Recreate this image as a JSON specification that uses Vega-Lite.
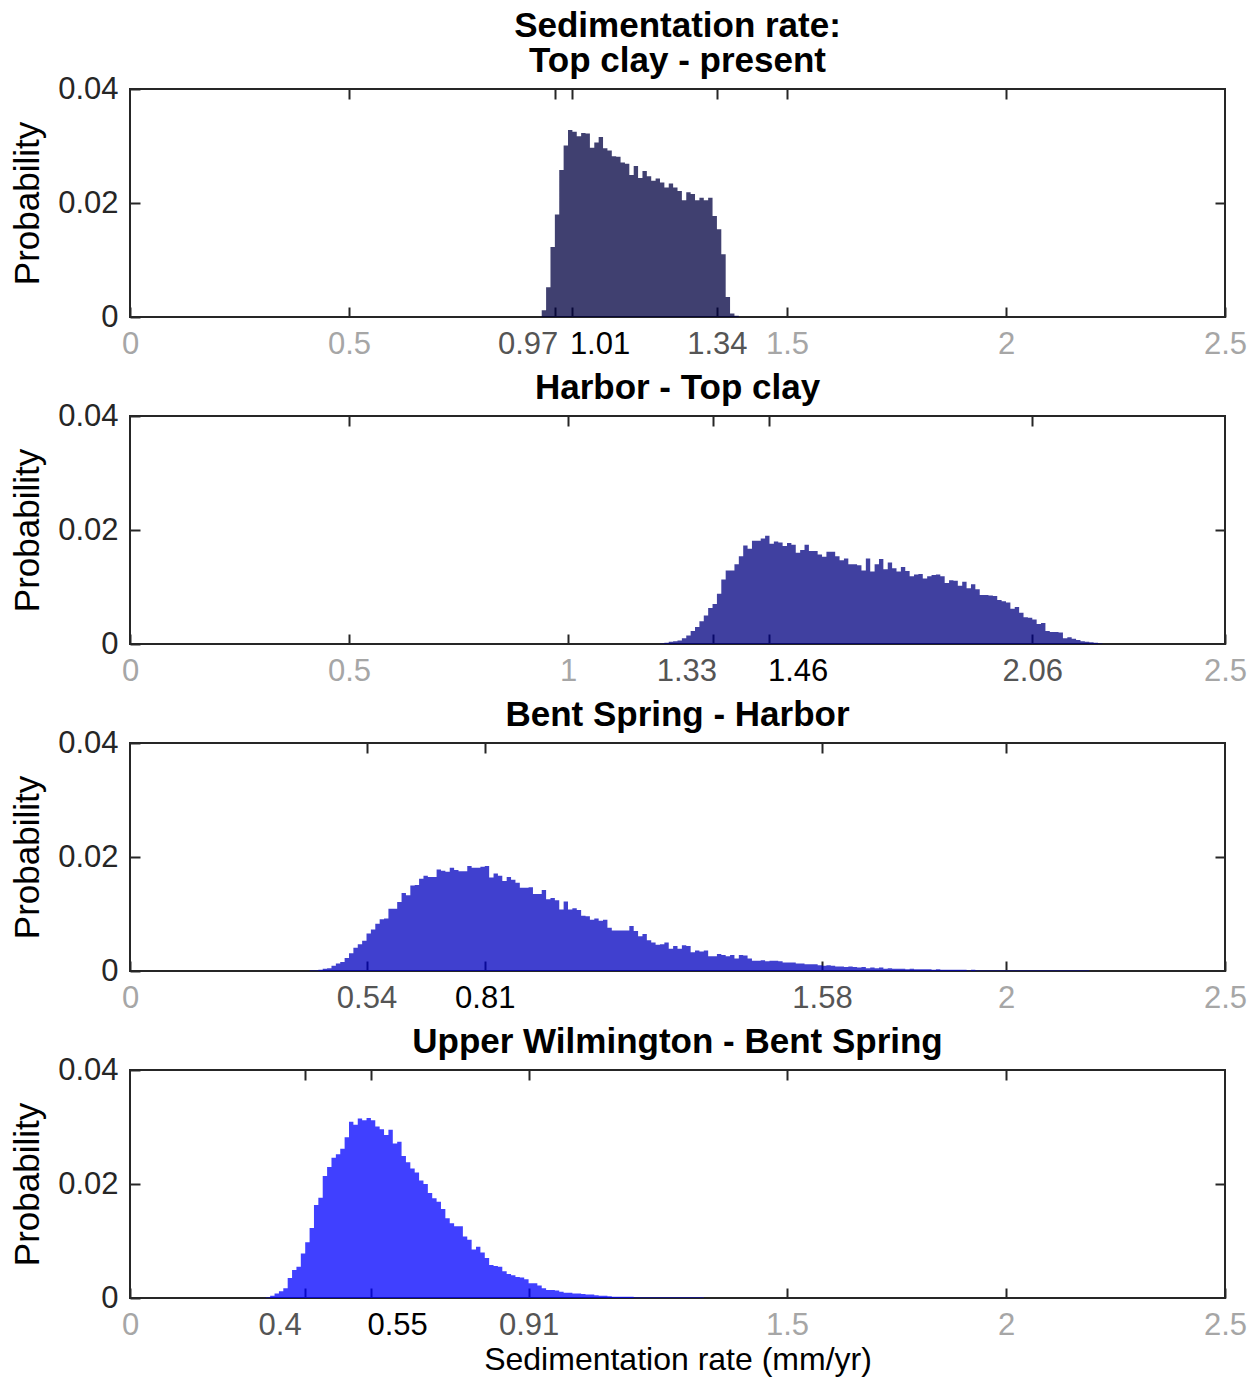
{
  "$schema": "https://vega.github.io/schema/vega-lite/v6.json",
  "padding": {"top": 8, "left": 9, "right": 10, "bottom": 3},
  "config": {
    "font": "Liberation Sans",
    "view": {"stroke": "#262626", "strokeWidth": 2},
    "axis": {"domain": false, "grid": false, "tickColor": "#262626", "tickWidth": 2, "tickSize": -10,
      "labelFontSize": 31, "labelColor": "#262626", "labelFont": "Liberation Sans",
      "titleFontSize": 33, "titleFontWeight": "normal", "titleColor": "#000000", "titleFont": "Liberation Sans",
      "labelOverlap": false, "labelFlush": false, "labelBound": false},
    "title": {"fontSize": 35, "fontWeight": "bold", "font": "Liberation Sans", "color": "#000000", "anchor": "middle", "frame": "group", "lineHeight": 35, "offset": -6}
  },
  "datasets": {
    "p1": [
      {"x":0.93,"p":0},{"x":0.94,"p":0.0012},{"x":0.95,"p":0.0052},{"x":0.96,"p":0.0123},{"x":0.97,"p":0.0180},{"x":0.98,"p":0.0258},{"x":0.99,"p":0.0301},{"x":1.00,"p":0.0328},{"x":1.01,"p":0.0325},{"x":1.02,"p":0.0317},{"x":1.03,"p":0.0323},{"x":1.04,"p":0.0322},{"x":1.05,"p":0.0297},{"x":1.06,"p":0.0306},{"x":1.07,"p":0.0316},{"x":1.08,"p":0.0296},{"x":1.09,"p":0.0292},{"x":1.10,"p":0.0282},{"x":1.11,"p":0.0281},{"x":1.12,"p":0.0271},{"x":1.13,"p":0.0269},{"x":1.14,"p":0.0249},{"x":1.15,"p":0.0265},{"x":1.16,"p":0.0244},{"x":1.17,"p":0.0256},{"x":1.18,"p":0.0247},{"x":1.19,"p":0.0239},{"x":1.20,"p":0.0243},{"x":1.21,"p":0.0236},{"x":1.22,"p":0.0227},{"x":1.23,"p":0.0234},{"x":1.24,"p":0.0227},{"x":1.25,"p":0.0221},{"x":1.26,"p":0.0205},{"x":1.27,"p":0.0219},{"x":1.28,"p":0.0216},{"x":1.29,"p":0.0205},{"x":1.30,"p":0.0209},{"x":1.31,"p":0.0205},{"x":1.32,"p":0.0209},{"x":1.33,"p":0.0177},{"x":1.34,"p":0.0154},{"x":1.35,"p":0.0110},{"x":1.36,"p":0.0035},{"x":1.37,"p":0.0006},{"x":1.38,"p":0.0002},{"x":1.39,"p":0}
    ],
    "p2": [
      {"x":1.20,"p":0},{"x":1.21,"p":0.0001},{"x":1.22,"p":0.0002},{"x":1.23,"p":0.0004},{"x":1.24,"p":0.0005},{"x":1.25,"p":0.0006},{"x":1.26,"p":0.0010},{"x":1.27,"p":0.0015},{"x":1.28,"p":0.0023},{"x":1.29,"p":0.0030},{"x":1.30,"p":0.0040},{"x":1.31,"p":0.0050},{"x":1.32,"p":0.0063},{"x":1.33,"p":0.0070},{"x":1.34,"p":0.0088},{"x":1.35,"p":0.0113},{"x":1.36,"p":0.0129},{"x":1.37,"p":0.0129},{"x":1.38,"p":0.0140},{"x":1.39,"p":0.0154},{"x":1.40,"p":0.0173},{"x":1.41,"p":0.0167},{"x":1.42,"p":0.0181},{"x":1.43,"p":0.0181},{"x":1.44,"p":0.0185},{"x":1.45,"p":0.0190},{"x":1.46,"p":0.0176},{"x":1.47,"p":0.0180},{"x":1.48,"p":0.0178},{"x":1.49,"p":0.0172},{"x":1.50,"p":0.0177},{"x":1.51,"p":0.0174},{"x":1.52,"p":0.0160},{"x":1.53,"p":0.0165},{"x":1.54,"p":0.0174},{"x":1.55,"p":0.0163},{"x":1.56,"p":0.0163},{"x":1.57,"p":0.0157},{"x":1.58,"p":0.0153},{"x":1.59,"p":0.0162},{"x":1.60,"p":0.0162},{"x":1.61,"p":0.0154},{"x":1.62,"p":0.0147},{"x":1.63,"p":0.0150},{"x":1.64,"p":0.0140},{"x":1.65,"p":0.0140},{"x":1.66,"p":0.0138},{"x":1.67,"p":0.0129},{"x":1.68,"p":0.0150},{"x":1.69,"p":0.0127},{"x":1.70,"p":0.0140},{"x":1.71,"p":0.0149},{"x":1.72,"p":0.0131},{"x":1.73,"p":0.0143},{"x":1.74,"p":0.0133},{"x":1.75,"p":0.0127},{"x":1.76,"p":0.0135},{"x":1.77,"p":0.0128},{"x":1.78,"p":0.0119},{"x":1.79,"p":0.0122},{"x":1.80,"p":0.0123},{"x":1.81,"p":0.0115},{"x":1.82,"p":0.0119},{"x":1.83,"p":0.0121},{"x":1.84,"p":0.0122},{"x":1.85,"p":0.0119},{"x":1.86,"p":0.0107},{"x":1.87,"p":0.0112},{"x":1.88,"p":0.0111},{"x":1.89,"p":0.0102},{"x":1.90,"p":0.0109},{"x":1.91,"p":0.0098},{"x":1.92,"p":0.0105},{"x":1.93,"p":0.0096},{"x":1.94,"p":0.0086},{"x":1.95,"p":0.0086},{"x":1.96,"p":0.0085},{"x":1.97,"p":0.0084},{"x":1.98,"p":0.0077},{"x":1.99,"p":0.0075},{"x":2.00,"p":0.0073},{"x":2.01,"p":0.0062},{"x":2.02,"p":0.0065},{"x":2.03,"p":0.0055},{"x":2.04,"p":0.0047},{"x":2.05,"p":0.0046},{"x":2.06,"p":0.0043},{"x":2.07,"p":0.0035},{"x":2.08,"p":0.0037},{"x":2.09,"p":0.0023},{"x":2.10,"p":0.0021},{"x":2.11,"p":0.0021},{"x":2.12,"p":0.0020},{"x":2.13,"p":0.0010},{"x":2.14,"p":0.0012},{"x":2.15,"p":0.0009},{"x":2.16,"p":0.0007},{"x":2.17,"p":0.0005},{"x":2.18,"p":0.0004},{"x":2.19,"p":0.0003},{"x":2.20,"p":0.0002},{"x":2.21,"p":0.0001},{"x":2.22,"p":0}
    ],
    "p3": [
      {"x":0.40,"p":0},{"x":0.41,"p":0.0001},{"x":0.42,"p":0.0001},{"x":0.43,"p":0.0002},{"x":0.44,"p":0.0004},{"x":0.45,"p":0.0005},{"x":0.46,"p":0.0009},{"x":0.47,"p":0.0013},{"x":0.48,"p":0.0016},{"x":0.49,"p":0.0023},{"x":0.50,"p":0.0031},{"x":0.51,"p":0.0041},{"x":0.52,"p":0.0047},{"x":0.53,"p":0.0053},{"x":0.54,"p":0.0066},{"x":0.55,"p":0.0073},{"x":0.56,"p":0.0083},{"x":0.57,"p":0.0091},{"x":0.58,"p":0.0092},{"x":0.59,"p":0.0109},{"x":0.60,"p":0.0109},{"x":0.61,"p":0.0121},{"x":0.62,"p":0.0137},{"x":0.63,"p":0.0133},{"x":0.64,"p":0.0150},{"x":0.65,"p":0.0151},{"x":0.66,"p":0.0162},{"x":0.67,"p":0.0167},{"x":0.68,"p":0.0165},{"x":0.69,"p":0.0165},{"x":0.70,"p":0.0178},{"x":0.71,"p":0.0176},{"x":0.72,"p":0.0174},{"x":0.73,"p":0.0181},{"x":0.74,"p":0.0177},{"x":0.75,"p":0.0175},{"x":0.76,"p":0.0175},{"x":0.77,"p":0.0184},{"x":0.78,"p":0.0181},{"x":0.79,"p":0.0181},{"x":0.80,"p":0.0183},{"x":0.81,"p":0.0184},{"x":0.82,"p":0.0164},{"x":0.83,"p":0.0171},{"x":0.84,"p":0.0167},{"x":0.85,"p":0.0158},{"x":0.86,"p":0.0165},{"x":0.87,"p":0.0160},{"x":0.88,"p":0.0155},{"x":0.89,"p":0.0146},{"x":0.90,"p":0.0146},{"x":0.91,"p":0.0147},{"x":0.92,"p":0.0135},{"x":0.93,"p":0.0135},{"x":0.94,"p":0.0142},{"x":0.95,"p":0.0126},{"x":0.96,"p":0.0128},{"x":0.97,"p":0.0124},{"x":0.98,"p":0.0108},{"x":0.99,"p":0.0122},{"x":1.00,"p":0.0108},{"x":1.01,"p":0.0110},{"x":1.02,"p":0.0107},{"x":1.03,"p":0.0097},{"x":1.04,"p":0.0096},{"x":1.05,"p":0.0090},{"x":1.06,"p":0.0092},{"x":1.07,"p":0.0088},{"x":1.08,"p":0.0090},{"x":1.09,"p":0.0076},{"x":1.10,"p":0.0071},{"x":1.11,"p":0.0071},{"x":1.12,"p":0.0071},{"x":1.13,"p":0.0071},{"x":1.14,"p":0.0079},{"x":1.15,"p":0.0070},{"x":1.16,"p":0.0061},{"x":1.17,"p":0.0065},{"x":1.18,"p":0.0054},{"x":1.19,"p":0.0050},{"x":1.20,"p":0.0046},{"x":1.21,"p":0.0047},{"x":1.22,"p":0.0050},{"x":1.23,"p":0.0039},{"x":1.24,"p":0.0044},{"x":1.25,"p":0.0039},{"x":1.26,"p":0.0045},{"x":1.27,"p":0.0044},{"x":1.28,"p":0.0033},{"x":1.29,"p":0.0036},{"x":1.30,"p":0.0034},{"x":1.31,"p":0.0036},{"x":1.32,"p":0.0026},{"x":1.33,"p":0.0026},{"x":1.34,"p":0.0030},{"x":1.35,"p":0.0028},{"x":1.36,"p":0.0026},{"x":1.37,"p":0.0028},{"x":1.38,"p":0.0022},{"x":1.39,"p":0.0028},{"x":1.40,"p":0.0027},{"x":1.41,"p":0.0022},{"x":1.42,"p":0.0018},{"x":1.43,"p":0.0018},{"x":1.44,"p":0.0019},{"x":1.45,"p":0.0017},{"x":1.46,"p":0.0018},{"x":1.47,"p":0.0018},{"x":1.48,"p":0.0017},{"x":1.49,"p":0.0015},{"x":1.50,"p":0.0015},{"x":1.51,"p":0.0015},{"x":1.52,"p":0.0013},{"x":1.53,"p":0.0013},{"x":1.54,"p":0.0012},{"x":1.55,"p":0.0012},{"x":1.56,"p":0.0012},{"x":1.57,"p":0.0010},{"x":1.58,"p":0.0009},{"x":1.59,"p":0.0010},{"x":1.60,"p":0.0009},{"x":1.61,"p":0.0008},{"x":1.62,"p":0.0008},{"x":1.63,"p":0.0007},{"x":1.64,"p":0.0008},{"x":1.65,"p":0.0007},{"x":1.66,"p":0.0006},{"x":1.67,"p":0.0007},{"x":1.68,"p":0.0005},{"x":1.69,"p":0.0006},{"x":1.70,"p":0.0005},{"x":1.71,"p":0.0006},{"x":1.72,"p":0.0004},{"x":1.73,"p":0.0005},{"x":1.74,"p":0.0004},{"x":1.75,"p":0.0004},{"x":1.76,"p":0.0004},{"x":1.77,"p":0.0003},{"x":1.78,"p":0.0004},{"x":1.79,"p":0.0003},{"x":1.80,"p":0.0003},{"x":1.81,"p":0.0003},{"x":1.82,"p":0.0003},{"x":1.83,"p":0.0002},{"x":1.84,"p":0.0003},{"x":1.85,"p":0.0002},{"x":1.86,"p":0.0002},{"x":1.87,"p":0.0002},{"x":1.88,"p":0.0002},{"x":1.89,"p":0.0002},{"x":1.90,"p":0.0002},{"x":1.91,"p":0.0001},{"x":1.92,"p":0.0002},{"x":1.93,"p":0.0001},{"x":1.94,"p":0.0001},{"x":1.95,"p":0.0001},{"x":1.96,"p":0.0001},{"x":1.97,"p":0.0001},{"x":1.98,"p":0.0001},{"x":1.99,"p":0.0001},{"x":2.00,"p":0.0001},{"x":2.01,"p":0.0001},{"x":2.02,"p":0.0001},{"x":2.03,"p":0.0001},{"x":2.04,"p":0.0001},{"x":2.05,"p":0.0001},{"x":2.06,"p":0.0001},{"x":2.07,"p":0.0001},{"x":2.08,"p":0.0001},{"x":2.09,"p":0.0001},{"x":2.10,"p":0.0001},{"x":2.11,"p":0.0001},{"x":2.12,"p":0.0001},{"x":2.13,"p":0.0001},{"x":2.14,"p":0.0001},{"x":2.15,"p":0.0001},{"x":2.16,"p":0.0001},{"x":2.17,"p":0.0001},{"x":2.18,"p":0.0001},{"x":2.19,"p":0}
    ],
    "p4": [
      {"x":0.30,"p":0},{"x":0.31,"p":0.0001},{"x":0.32,"p":0.0004},{"x":0.33,"p":0.0008},{"x":0.34,"p":0.0012},{"x":0.35,"p":0.0017},{"x":0.36,"p":0.0035},{"x":0.37,"p":0.0049},{"x":0.38,"p":0.0055},{"x":0.39,"p":0.0078},{"x":0.40,"p":0.0098},{"x":0.41,"p":0.0123},{"x":0.42,"p":0.0163},{"x":0.43,"p":0.0176},{"x":0.44,"p":0.0214},{"x":0.45,"p":0.0230},{"x":0.46,"p":0.0246},{"x":0.47,"p":0.0252},{"x":0.48,"p":0.0262},{"x":0.49,"p":0.0282},{"x":0.50,"p":0.0309},{"x":0.51,"p":0.0304},{"x":0.52,"p":0.0315},{"x":0.53,"p":0.0312},{"x":0.54,"p":0.0316},{"x":0.55,"p":0.0312},{"x":0.56,"p":0.0301},{"x":0.57,"p":0.0296},{"x":0.58,"p":0.0286},{"x":0.59,"p":0.0295},{"x":0.60,"p":0.0271},{"x":0.61,"p":0.0274},{"x":0.62,"p":0.0249},{"x":0.63,"p":0.0238},{"x":0.64,"p":0.0227},{"x":0.65,"p":0.0220},{"x":0.66,"p":0.0206},{"x":0.67,"p":0.0200},{"x":0.68,"p":0.0184},{"x":0.69,"p":0.0175},{"x":0.70,"p":0.0169},{"x":0.71,"p":0.0156},{"x":0.72,"p":0.0140},{"x":0.73,"p":0.0131},{"x":0.74,"p":0.0126},{"x":0.75,"p":0.0126},{"x":0.76,"p":0.0108},{"x":0.77,"p":0.0102},{"x":0.78,"p":0.0085},{"x":0.79,"p":0.0090},{"x":0.80,"p":0.0080},{"x":0.81,"p":0.0070},{"x":0.82,"p":0.0058},{"x":0.83,"p":0.0056},{"x":0.84,"p":0.0055},{"x":0.85,"p":0.0047},{"x":0.86,"p":0.0042},{"x":0.87,"p":0.0040},{"x":0.88,"p":0.0037},{"x":0.89,"p":0.0036},{"x":0.90,"p":0.0033},{"x":0.91,"p":0.0026},{"x":0.92,"p":0.0026},{"x":0.93,"p":0.0022},{"x":0.94,"p":0.0017},{"x":0.95,"p":0.0014},{"x":0.96,"p":0.0014},{"x":0.97,"p":0.0013},{"x":0.98,"p":0.0011},{"x":0.99,"p":0.0009},{"x":1.00,"p":0.0009},{"x":1.01,"p":0.0008},{"x":1.02,"p":0.0008},{"x":1.03,"p":0.0007},{"x":1.04,"p":0.0006},{"x":1.05,"p":0.0006},{"x":1.06,"p":0.0005},{"x":1.07,"p":0.0004},{"x":1.08,"p":0.0004},{"x":1.09,"p":0.0003},{"x":1.10,"p":0.0002},{"x":1.11,"p":0.0002},{"x":1.12,"p":0.0002},{"x":1.13,"p":0.0002},{"x":1.14,"p":0.0002},{"x":1.15,"p":0.0001},{"x":1.16,"p":0.0001},{"x":1.17,"p":0.0001},{"x":1.18,"p":0.0001},{"x":1.19,"p":0.0001},{"x":1.20,"p":0.0001},{"x":1.21,"p":0.0001},{"x":1.22,"p":0.0001},{"x":1.23,"p":0.0001},{"x":1.24,"p":0.0001},{"x":1.25,"p":0.0001},{"x":1.26,"p":0.0001},{"x":1.27,"p":0.0001},{"x":1.28,"p":0.0001},{"x":1.29,"p":0.0001},{"x":1.30,"p":0.0001},{"x":1.31,"p":0}
    ]
  },
  "vconcat": [
    {
      "title": {"text": ["Sedimentation rate:", "Top clay - present"]},
      "width": 1095, "height": 228,
      "data": {"name": "p1"},
      "layer": [
        {"mark": {"type": "area", "interpolate": "step-after", "color": "#000040", "opacity": 0.75},
         "encoding": {
           "x": {"field": "x", "type": "quantitative", "scale": {"domain": [0, 2.5], "nice": false, "zero": false},
             "axis": {"orient": "bottom", "values": [0, 0.5, 0.97, 1.01, 1.34, 1.5, 2, 2.5], "labelExpr": "'' + datum.value", "title": null, "labelPadding": 22,
               "labelColor": {"condition": [{"test": "datum.value == 1.01", "value": "#000000"}, {"test": "datum.value == 0.97 || datum.value == 1.34", "value": "#555555"}], "value": "#a6a6a6"},
               "labelAlign": {"condition": [{"test": "datum.value == 0.97", "value": "right"}, {"test": "datum.value == 1.01", "value": "left"}], "value": "center"},
               "labelOffset": {"condition": [{"test": "datum.value == 0.97", "value": 3}, {"test": "datum.value == 1.01", "value": -3}], "value": 0}}},
           "y": {"field": "p", "type": "quantitative", "scale": {"domain": [0, 0.04], "nice": false},
             "axis": {"orient": "left", "values": [0, 0.02, 0.04], "labelExpr": "datum.value == 0 ? '0' : format(datum.value, '.2f')", "title": "Probability", "titleFontSize": 35, "titlePadding": 12, "labelPadding": 22}}
         }},
        {"mark": {"type": "area", "opacity": 0},
         "encoding": {
           "x": {"field": "x", "type": "quantitative", "axis": {"orient": "top", "values": [0.5, 0.97, 1.01, 1.34, 1.5, 2], "labels": false, "title": null}},
           "y": {"field": "p", "type": "quantitative", "axis": {"orient": "right", "values": [0.02], "labels": false, "title": null}}
         }}
      ],
      "resolve": {"axis": {"x": "independent", "y": "independent"}}
    },
    {
      "title": {"text": "Harbor - Top clay"},
      "width": 1095, "height": 228,
      "data": {"name": "p2"},
      "layer": [
        {"mark": {"type": "area", "interpolate": "step-after", "color": "#000080", "opacity": 0.75},
         "encoding": {
           "x": {"field": "x", "type": "quantitative", "scale": {"domain": [0, 2.5], "nice": false, "zero": false},
             "axis": {"orient": "bottom", "values": [0, 0.5, 1, 1.33, 1.46, 2.06, 2.5], "labelExpr": "'' + datum.value", "title": null, "labelPadding": 22,
               "labelColor": {"condition": [{"test": "datum.value == 1.46", "value": "#000000"}, {"test": "datum.value == 1.33 || datum.value == 2.06", "value": "#555555"}], "value": "#a6a6a6"},
               "labelAlign": {"condition": [{"test": "datum.value == 1.33", "value": "right"}, {"test": "datum.value == 1.46", "value": "left"}], "value": "center"},
               "labelOffset": {"condition": [{"test": "datum.value == 1.33", "value": 4}, {"test": "datum.value == 1.46", "value": -2}], "value": 0}}},
           "y": {"field": "p", "type": "quantitative", "scale": {"domain": [0, 0.04], "nice": false},
             "axis": {"orient": "left", "values": [0, 0.02, 0.04], "labelExpr": "datum.value == 0 ? '0' : format(datum.value, '.2f')", "title": "Probability", "titleFontSize": 35, "titlePadding": 12, "labelPadding": 22}}
         }},
        {"mark": {"type": "area", "opacity": 0},
         "encoding": {
           "x": {"field": "x", "type": "quantitative", "axis": {"orient": "top", "values": [0.5, 1, 1.33, 1.46, 2.06], "labels": false, "title": null}},
           "y": {"field": "p", "type": "quantitative", "axis": {"orient": "right", "values": [0.02], "labels": false, "title": null}}
         }}
      ],
      "resolve": {"axis": {"x": "independent", "y": "independent"}}
    },
    {
      "title": {"text": "Bent Spring - Harbor"},
      "width": 1095, "height": 228,
      "data": {"name": "p3"},
      "layer": [
        {"mark": {"type": "area", "interpolate": "step-after", "color": "#0000bf", "opacity": 0.75},
         "encoding": {
           "x": {"field": "x", "type": "quantitative", "scale": {"domain": [0, 2.5], "nice": false, "zero": false},
             "axis": {"orient": "bottom", "values": [0, 0.54, 0.81, 1.58, 2, 2.5], "labelExpr": "'' + datum.value", "title": null, "labelPadding": 22,
               "labelColor": {"condition": [{"test": "datum.value == 0.81", "value": "#000000"}, {"test": "datum.value == 0.54 || datum.value == 1.58", "value": "#555555"}], "value": "#a6a6a6"}}},
           "y": {"field": "p", "type": "quantitative", "scale": {"domain": [0, 0.04], "nice": false},
             "axis": {"orient": "left", "values": [0, 0.02, 0.04], "labelExpr": "datum.value == 0 ? '0' : format(datum.value, '.2f')", "title": "Probability", "titleFontSize": 35, "titlePadding": 12, "labelPadding": 22}}
         }},
        {"mark": {"type": "area", "opacity": 0},
         "encoding": {
           "x": {"field": "x", "type": "quantitative", "axis": {"orient": "top", "values": [0.54, 0.81, 1.58, 2], "labels": false, "title": null}},
           "y": {"field": "p", "type": "quantitative", "axis": {"orient": "right", "values": [0.02], "labels": false, "title": null}}
         }}
      ],
      "resolve": {"axis": {"x": "independent", "y": "independent"}}
    },
    {
      "title": {"text": "Upper Wilmington - Bent Spring"},
      "width": 1095, "height": 228,
      "data": {"name": "p4"},
      "layer": [
        {"mark": {"type": "area", "interpolate": "step-after", "color": "#0000ff", "opacity": 0.75},
         "encoding": {
           "x": {"field": "x", "type": "quantitative", "scale": {"domain": [0, 2.5], "nice": false, "zero": false},
             "axis": {"orient": "bottom", "values": [0, 0.4, 0.55, 0.91, 1.5, 2, 2.5], "labelExpr": "'' + datum.value", "title": "Sedimentation rate (mm/yr)", "titleFontSize": 32, "titlePadding": 4, "labelPadding": 22,
               "labelColor": {"condition": [{"test": "datum.value == 0.55", "value": "#000000"}, {"test": "datum.value == 0.4 || datum.value == 0.91", "value": "#555555"}], "value": "#a6a6a6"},
               "labelAlign": {"condition": [{"test": "datum.value == 0.4", "value": "right"}, {"test": "datum.value == 0.55", "value": "left"}], "value": "center"},
               "labelOffset": {"condition": [{"test": "datum.value == 0.4", "value": -4}, {"test": "datum.value == 0.55", "value": -4}], "value": 0}}},
           "y": {"field": "p", "type": "quantitative", "scale": {"domain": [0, 0.04], "nice": false},
             "axis": {"orient": "left", "values": [0, 0.02, 0.04], "labelExpr": "datum.value == 0 ? '0' : format(datum.value, '.2f')", "title": "Probability", "titleFontSize": 35, "titlePadding": 12, "labelPadding": 22}}
         }},
        {"mark": {"type": "area", "opacity": 0},
         "encoding": {
           "x": {"field": "x", "type": "quantitative", "axis": {"orient": "top", "values": [0.4, 0.55, 0.91, 1.5, 2], "labels": false, "title": null}},
           "y": {"field": "p", "type": "quantitative", "axis": {"orient": "right", "values": [0.02], "labels": false, "title": null}}
         }}
      ],
      "resolve": {"axis": {"x": "independent", "y": "independent"}}
    }
  ],
  "spacing": 99,
  "bounds": "flush"
}
